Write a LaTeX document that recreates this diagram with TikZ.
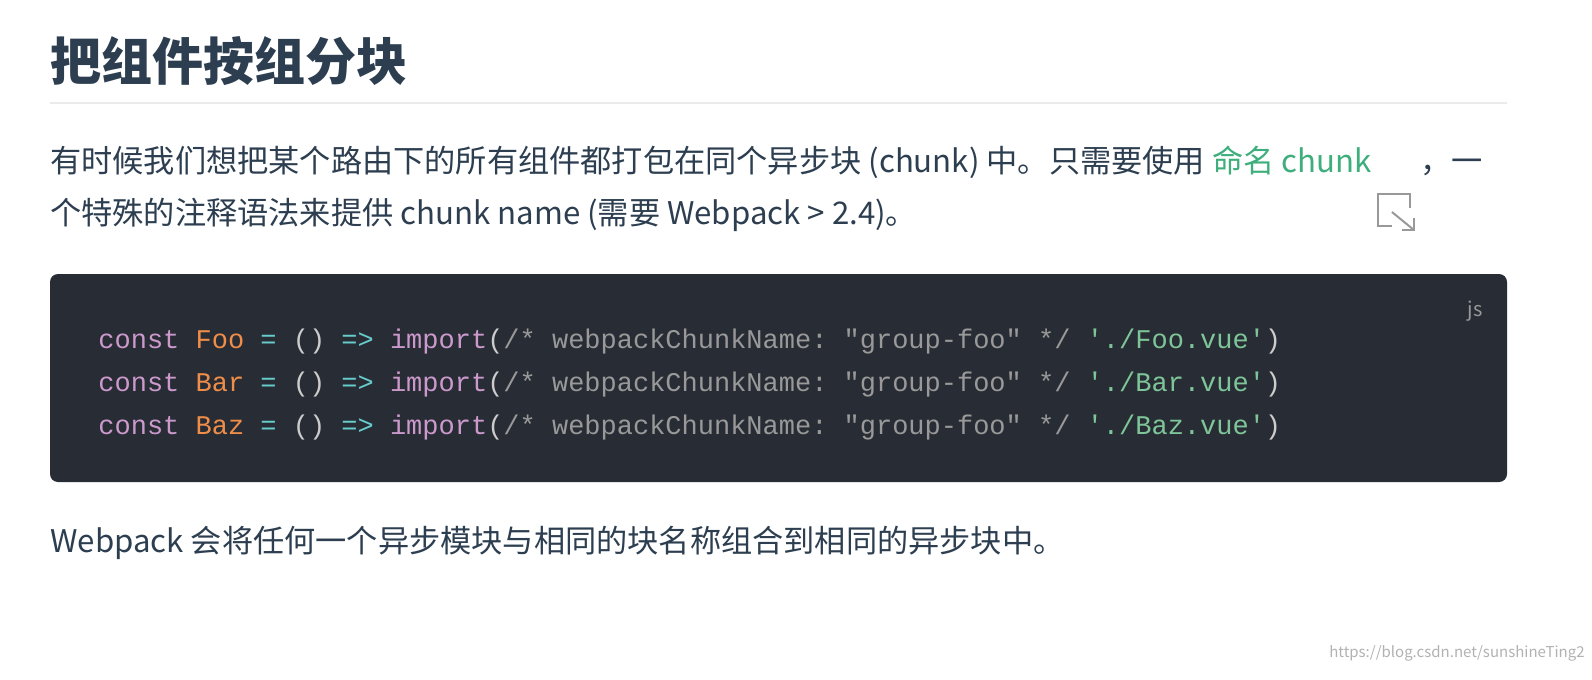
\documentclass[tikz,border=0pt]{standalone}
\usepackage{fontspec}
\setmainfont{Noto Sans CJK SC}
\setmonofont{Liberation Mono}
\definecolor{txt}{HTML}{2C3E50}
\definecolor{lnk}{HTML}{3EAF7C}
\definecolor{codebg}{HTML}{282C34}
\definecolor{kw}{HTML}{CC99CD}
\definecolor{cls}{HTML}{F08D49}
\definecolor{op}{HTML}{67CDCC}
\definecolor{pn}{HTML}{CCCCCC}
\definecolor{cmt}{HTML}{999999}
\definecolor{st}{HTML}{7EC699}
\newcommand{\K}[1]{\textcolor{kw}{#1}}
\newcommand{\C}[1]{\textcolor{cls}{#1}}
\newcommand{\Op}[1]{\textcolor{op}{#1}}
\newcommand{\Pn}[1]{\textcolor{pn}{#1}}
\newcommand{\Cm}[1]{\textcolor{cmt}{#1}}
\newcommand{\St}[1]{\textcolor{st}{#1}}
\newcommand{\codeline}[1]{\K{const} \C{#1} \Op{=} \Pn{()} \Op{=>} \K{import}\Pn{(}\Cm{/* webpackChunkName: "group-foo" */} \St{'./#1.vue'}\Pn{)}}
\begin{document}
\begin{tikzpicture}[x=0.5pt,y=-0.5pt,
  t/.style={anchor=base west,inner sep=0,text=txt,font=\fontsize{15.6}{18}\selectfont},
  code/.style={anchor=base west,inner sep=0,font=\ttfamily\fontsize{13.5}{15}\selectfont},
  ic/.style={draw=cmt,line width=1pt}]
\useasboundingbox[fill=white] (0,0) rectangle (1592,680);
\node[t,font=\bfseries\fontsize{25.5}{30}\selectfont] (title) at (50,80) {把组件按组分块};
\draw[draw=black!8,line width=1pt] (50,103) coordinate (r1) -- (1507,103) coordinate (r2);
\node[t] (p1) at (50,172) {有时候我们想把某个路由下的所有组件都打包在同个异步块 (chunk) 中。只需要使用 \textcolor{lnk}{命名 chunk}};
\draw[ic] ([xshift=3,yshift=-27]p1.base east) coordinate (i1) rectangle ([xshift=19,yshift=-11]p1.base east);
\fill[white] ([xshift=10,yshift=-30]p1.base east) rectangle ([xshift=22,yshift=-18]p1.base east);
\draw[ic] ([xshift=10,yshift=-20]p1.base east) -- ([xshift=21,yshift=-29]p1.base east);
\draw[ic] ([xshift=15,yshift=-29]p1.base east) -- ([xshift=21,yshift=-29]p1.base east) -- ([xshift=21,yshift=-23]p1.base east);
\node[t] (p1b) at ([xshift=24]p1.base east) {，一};
\node[t] (p2) at (50,224) {个特殊的注释语法来提供 chunk name (需要 Webpack > 2.4)。};
\fill[codebg,rounded corners=4pt] (50,274) rectangle (1507,482);
\node[anchor=base east,inner sep=0,text=cmt,font=\fontsize{10}{12}\selectfont] (js) at (1483,316) {js};
\node[code] (c1) at (98,348) {\codeline{Foo}};
\node[code] (c2) at (98,391) {\codeline{Bar}};
\node[code] (c3) at (98,434) {\codeline{Baz}};
\node[t] (p3) at (50,552) {Webpack 会将任何一个异步模块与相同的块名称组合到相同的异步块中。};
\node[anchor=base east,inner sep=0,text=black!30,font=\fontsize{7.5}{9}\selectfont] (wm) at (1585,657) {https://blog.csdn.net/sunshineTing2};
\end{tikzpicture}
\end{document}
